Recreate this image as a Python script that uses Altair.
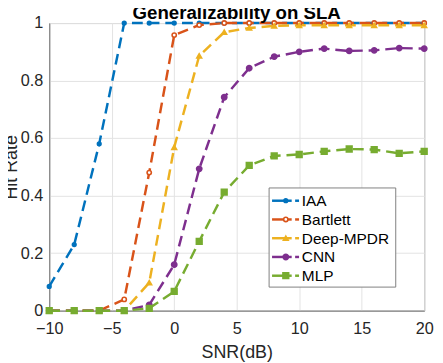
import altair as alt
import pandas as pd

snr = [-10, -8, -6, -4, -2, 0, 2, 4, 6, 8, 10, 12, 14, 16, 18, 20]
series_names = ["IAA", "Bartlett", "Deep-MPDR", "CNN", "MLP"]
iaa = [0.084, 0.23, 0.58, 1.0, 1.0, 1.0, 1.0, 1.0, 1.0, 1.0, 1.0, 1.0, 1.0, 1.0, 1.0, 1.0]
bartlett = [0.0, 0.0, 0.0, 0.039, 0.48, 0.958, 0.993, 1.0, 1.0, 1.0, 1.0, 1.0, 1.0, 1.0, 1.0, 1.0]
deep_mpdr = [0.0, 0.0, 0.0, 0.0, 0.097, 0.568, 0.886, 0.968, 0.983, 0.99, 0.992, 0.992, 0.992, 0.992, 0.992, 0.992]
cnn = [0.0, 0.0, 0.0, 0.0, 0.02, 0.16, 0.493, 0.742, 0.843, 0.883, 0.90, 0.911, 0.903, 0.905, 0.913, 0.911]
mlp = [0.0, 0.0, 0.0, 0.0, 0.008, 0.067, 0.241, 0.412, 0.505, 0.538, 0.543, 0.554, 0.562, 0.56, 0.547, 0.554]

colors = ["#0072BD", "#D95319", "#EDB120", "#7E2F8E", "#77AC30"]
fills = ["#0072BD", "#FFFFFF", "#EDB120", "#7E2F8E", "#77AC30"]
shapes = ["circle", "circle", "triangle-up", "circle", "square"]
sizes = [14, 34, 70, 30, 34]

values_by_series = [iaa, bartlett, deep_mpdr, cnn, mlp]
rows = []
for name, vals in zip(series_names, values_by_series):
    for s, v in zip(snr, vals):
        rows.append({"snr": s, "value": v, "series": name})
df = pd.DataFrame(rows)
legend_df = pd.DataFrame({"series": series_names})

FONT = "Liberation Sans"
TXT = "#262626"
AX = "#7a7a7a"

x_enc = alt.X(
    "snr:Q",
    scale=alt.Scale(domain=[-10, 20], nice=False),
    axis=alt.Axis(
        values=[-10, -5, 0, 5, 10, 15, 20], title="SNR(dB)", ticks=False,
        labelPadding=10, labelFontSize=16.5, labelFont=FONT, labelColor=TXT,
        labelFlush=False,
        titleFontSize=18.2, titleFont=FONT, titleFontWeight="normal", titleColor=TXT,
        titlePadding=7,
        grid=True, gridColor="#e2e2e2", domainColor=AX,
    ),
)
y_enc = alt.Y(
    "value:Q",
    scale=alt.Scale(domain=[0, 1], nice=False),
    axis=alt.Axis(
        values=[0, 0.2, 0.4, 0.6, 0.8, 1.0], format="~g", title="Hit Rate", ticks=False,
        labelPadding=6.5, labelFontSize=16.5, labelFont=FONT, labelColor=TXT,
        labelFlush=False,
        titleFontSize=18.2, titleFont=FONT, titleFontWeight="normal", titleColor=TXT,
        titlePadding=0,
        grid=True, gridColor="#e2e2e2", domainColor=AX,
    ),
)
color_scale = alt.Scale(domain=series_names, range=colors)
shape_scale = alt.Scale(domain=series_names, range=shapes)
fill_scale = alt.Scale(domain=series_names, range=fills)
size_scale = alt.Scale(domain=series_names, range=sizes)

base = alt.Chart(df)
layers = []
for name in series_names:
    layers.append(
        base.transform_filter(alt.datum.series == name)
        .mark_line(strokeDash=[11, 6], strokeWidth=2.5)
        .encode(x=x_enc, y=y_enc, color=alt.Color("series:N", scale=color_scale, legend=None))
    )

points = base.mark_point(filled=False, opacity=1, strokeWidth=1.6).encode(
    x=x_enc, y=y_enc,
    color=alt.Color("series:N", scale=color_scale, legend=None),
    shape=alt.Shape("series:N", scale=shape_scale, legend=None),
    fill=alt.Fill("series:N", scale=fill_scale, legend=None),
    size=alt.Size("series:N", scale=size_scale, legend=None),
)
layers.append(points)

# legend box (MATLAB style, inside the axes)
lbase = alt.Chart(legend_df)
layers.append(
    lbase.transform_filter(alt.datum.series == series_names[0])
    .mark_rect(fill="white", stroke="#7f7f7f", strokeWidth=1)
    .encode(x=alt.value(224), x2=alt.value(353), y=alt.value(168), y2=alt.value(269))
)
row_step = 19.1
for i, name in enumerate(series_names):
    ry = 181 + i * row_step
    row = lbase.transform_filter(alt.datum.series == name)
    line_color = alt.Color("series:N", scale=color_scale, legend=None)
    layers.append(
        row.mark_rule(strokeWidth=2.5)
        .encode(x=alt.value(227), x2=alt.value(247), y=alt.value(ry), color=line_color)
    )
    layers.append(
        row.mark_rule(strokeWidth=2.5)
        .encode(x=alt.value(250.5), x2=alt.value(254.5), y=alt.value(ry), color=line_color)
    )
    layers.append(
        row.mark_point(filled=False, opacity=1, strokeWidth=1.6).encode(
            x=alt.value(241), y=alt.value(ry),
            color=line_color,
            shape=alt.Shape("series:N", scale=shape_scale, legend=None),
            fill=alt.Fill("series:N", scale=fill_scale, legend=None),
            size=alt.Size("series:N", scale=size_scale, legend=None),
        )
    )
    layers.append(
        row.mark_text(align="left", baseline="middle", fontSize=15.7, font=FONT, color="#000000")
        .encode(x=alt.value(257.3), y=alt.value(ry + 0.5), text="series:N")
    )

chart = alt.layer(*layers).properties(
    width=382, height=293,
    padding={"left": 42, "top": 12, "right": 11, "bottom": 50},
    autosize=alt.AutoSizeParams(type="none"),
    title=alt.TitleParams(
        "Generalizability on SLA", fontSize=19, fontWeight="bold", font=FONT,
        color="#000000", offset=-8, anchor="middle",
    ),
).configure_view(stroke=AX, strokeWidth=1)

chart.save("out.html", embed_options={"renderer": "svg", "actions": False})
